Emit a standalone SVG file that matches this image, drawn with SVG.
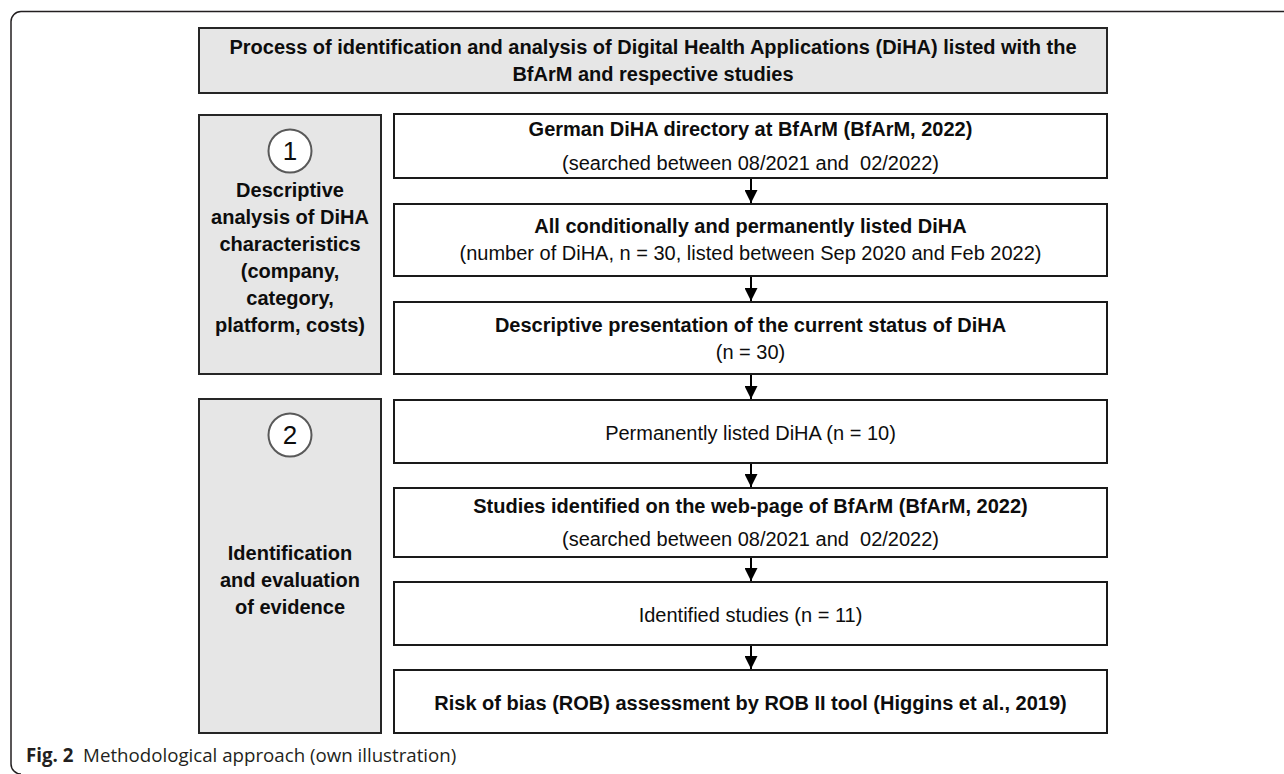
<svg xmlns="http://www.w3.org/2000/svg" width="1284" height="774" viewBox="0 0 1284 774">
<defs>
<style>
.gray{fill:#e6e6e6;stroke:#262626;stroke-width:2}
.box{fill:#ffffff;stroke:#1a1a1a;stroke-width:2}
.t{font-family:"Liberation Sans",Arial,sans-serif;font-size:20px;fill:#0d0d0d;text-anchor:middle}
.b{font-weight:bold}
.circ{fill:#ffffff;stroke:#595959;stroke-width:2}
.num{font-family:"Liberation Sans",Arial,sans-serif;font-size:26px;fill:#0d0d0d;text-anchor:middle}
.conn{stroke:#000;stroke-width:2;fill:none}
.cap{font-family:"Open Sans","Liberation Sans",sans-serif;font-size:18.7px;fill:#231f20}
</style>
<marker id="ah" markerWidth="13" markerHeight="13" viewBox="0 0 13 13" refX="13" refY="6.5" orient="auto" markerUnits="userSpaceOnUse">
<path d="M0,0 L13,6.5 L0,13 Z" fill="#000"/>
</marker>
</defs>
<rect width="1284" height="774" fill="#ffffff"/>
<path d="M1284,11.5 H21 A10,10 0 0 0 11,21.5 V764 A10,10 0 0 0 21,774" fill="none" stroke="#231f20" stroke-width="1.5"/>

<g id="title">
<rect class="gray" x="199" y="28" width="908" height="65"/>
<text class="t b" x="653" y="54">Process of identification and analysis of Digital Health Applications (DiHA) listed with the</text>
<text class="t b" x="653" y="81">BfArM and respective studies</text>
</g>

<g id="phase1">
<rect class="gray" x="199" y="115" width="182" height="259"/>
<circle class="circ" cx="290" cy="151" r="21.5"/>
<text class="num" x="290" y="160">1</text>
<text class="t b" x="290" y="197">Descriptive</text>
<text class="t b" x="290" y="224">analysis of DiHA</text>
<text class="t b" x="290" y="251">characteristics</text>
<text class="t b" x="290" y="278">(company,</text>
<text class="t b" x="290" y="305">category,</text>
<text class="t b" x="290" y="332">platform, costs)</text>
</g>

<g id="phase2">
<rect class="gray" x="199" y="399" width="182" height="334"/>
<circle class="circ" cx="290" cy="435" r="21.5"/>
<text class="num" x="290" y="444">2</text>
<text class="t b" x="290" y="560">Identification</text>
<text class="t b" x="290" y="587">and evaluation</text>
<text class="t b" x="290" y="614">of evidence</text>
</g>

<g id="nodeA">
<rect class="box" x="394" y="114" width="713" height="64"/>
<text class="t b" x="750.5" y="136">German DiHA directory at BfArM (BfArM, 2022)</text>
<text class="t" x="750.5" y="170">(searched between 08/2021 and&#160; 02/2022)</text>
</g>
<g id="nodeB">
<rect class="box" x="394" y="204" width="713" height="72"/>
<text class="t b" x="750.5" y="233">All conditionally and permanently listed DiHA</text>
<text class="t" x="750.5" y="260">(number of DiHA, n = 30, listed between Sep 2020 and Feb 2022)</text>
</g>
<g id="nodeC">
<rect class="box" x="394" y="302" width="713" height="72"/>
<text class="t b" x="750.5" y="332">Descriptive presentation of the current status of DiHA</text>
<text class="t" x="750.5" y="359">(n = 30)</text>
</g>
<g id="nodeD">
<rect class="box" x="394" y="400" width="713" height="63"/>
<text class="t" x="750.5" y="440">Permanently listed DiHA (n = 10)</text>
</g>
<g id="nodeE">
<rect class="box" x="394" y="488" width="713" height="69"/>
<text class="t b" x="750.5" y="513">Studies identified on the web-page of BfArM (BfArM, 2022)</text>
<text class="t" x="750.5" y="546">(searched between 08/2021 and&#160; 02/2022)</text>
</g>
<g id="nodeF">
<rect class="box" x="394" y="582" width="713" height="63"/>
<text class="t" x="750.5" y="622">Identified studies (n = 11)</text>
</g>
<g id="nodeG">
<rect class="box" x="394" y="670" width="713" height="63"/>
<text class="t b" x="750.5" y="710">Risk of bias (ROB) assessment by ROB II tool (Higgins et al., 2019)</text>
</g>

<g id="connectors">
<line class="conn" x1="751" y1="179" x2="751" y2="203" marker-end="url(#ah)"/>
<line class="conn" x1="751" y1="277" x2="751" y2="301" marker-end="url(#ah)"/>
<line class="conn" x1="751" y1="375" x2="751" y2="399" marker-end="url(#ah)"/>
<line class="conn" x1="751" y1="464" x2="751" y2="487" marker-end="url(#ah)"/>
<line class="conn" x1="751" y1="558" x2="751" y2="581" marker-end="url(#ah)"/>
<line class="conn" x1="751" y1="646" x2="751" y2="669" marker-end="url(#ah)"/>
</g>

<text class="cap" x="26" y="762"><tspan font-weight="bold">Fig. 2</tspan>&#160; Methodological approach (own illustration)</text>
</svg>
